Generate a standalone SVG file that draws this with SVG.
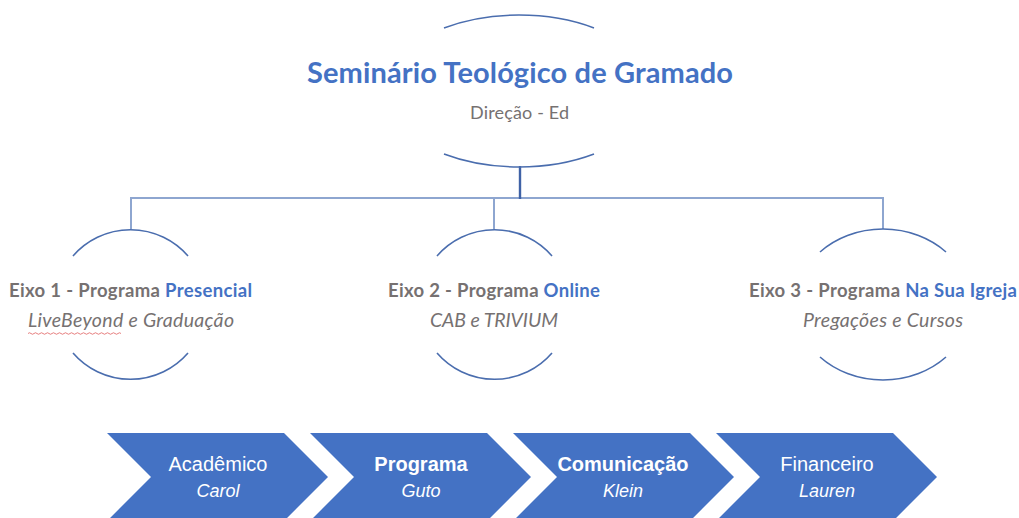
<svg xmlns="http://www.w3.org/2000/svg" width="1019" height="518" viewBox="0 0 1019 518">
<style>
.arc{fill:none;stroke:#4A6DAE;stroke-width:1.6}
.lnk{fill:none;stroke:#8EA6D0;stroke-width:2}
.lnk-main{fill:none;stroke:#3F62A6;stroke-width:2.4}
.title{font-family:Lato,"Open Sans",sans-serif;font-weight:bold;font-size:29px;fill:#4472C4;text-anchor:middle}
.sub{font-family:Lato,"Open Sans",sans-serif;font-size:18px;fill:#767171;text-anchor:middle}
.eixo{font-family:Lato,"Open Sans",sans-serif;font-weight:bold;font-size:18.5px;fill:#767171;text-anchor:middle}
.blue{fill:#4472C4}
.desc{font-family:Lato,"Open Sans",sans-serif;font-style:italic;font-size:19.5px;fill:#767171;text-anchor:middle}
.chev{fill:#4472C4}
.ct{font-family:"Liberation Sans",Arial,sans-serif;font-size:20px;fill:#FFFFFF;text-anchor:middle}
.cn{font-family:"Liberation Sans",Arial,sans-serif;font-style:italic;font-size:18px;fill:#FFFFFF;text-anchor:middle}
</style>
<rect width="1019" height="518" fill="#FFFFFF"/>
<g id="connectors">
<path class="lnk" d="M131 229 V198 H883 V229"/>
<path class="lnk" d="M494 198 V229"/>
<path class="lnk-main" d="M520 166 V199"/>
</g>
<g id="node-seminario">
<path class="arc" d="M444 28 A134 75.5 0 0 1 594 28"/>
<path class="arc" d="M444 154 A134 75.5 0 0 0 594 154"/>
<text class="title" x="520" y="83" textLength="426">Seminário Teológico de Gramado</text>
<text class="sub" x="519.5" y="119" textLength="99">Direção - Ed</text>
</g>
<g id="node-eixo1">
<path class="arc" d="M73 256 A76 76 0 0 1 188 256"/>
<path class="arc" d="M73 353 A76 76 0 0 0 188 353"/>
<text class="eixo" x="130.5" y="297" textLength="243">Eixo 1 - Programa <tspan class="blue">Presencial</tspan></text>
<text class="desc" x="131" y="327" textLength="206">LiveBeyond e Graduação</text>
<path d="M28 333.5 q1.5 -1.5 3 0 t3 0 t3 0 t3 0 t3 0 t3 0 t3 0 t3 0 t3 0 t3 0 t3 0 t3 0 t3 0 t3 0 t3 0 t3 0 t3 0 t3 0 t3 0 t3 0 t3 0 t3 0 t3 0 t3 0 t3 0 t3 0 t3 0 t3 0 t3 0 t3 0 t3 0" fill="none" stroke="#E06060" stroke-width="0.8"/>
</g>
<g id="node-eixo2">
<path class="arc" d="M437 256 A76 76 0 0 1 552 256"/>
<path class="arc" d="M437 353 A76 76 0 0 0 552 353"/>
<text class="eixo" x="494" y="297" textLength="212">Eixo 2 - Programa <tspan class="blue">Online</tspan></text>
<text class="desc" x="494" y="327" textLength="128">CAB e TRIVIUM</text>
</g>
<g id="node-eixo3">
<path class="arc" d="M820 252 A88 76 0 0 1 946 252"/>
<path class="arc" d="M820 357 A88 76 0 0 0 946 357"/>
<text class="eixo" x="883" y="297" textLength="268">Eixo 3 - Programa <tspan class="blue">Na Sua Igreja</tspan></text>
<text class="desc" x="883" y="327" textLength="160">Pregações e Cursos</text>
</g>
<g id="node-academico">
<polygon class="chev" points="107,433 284,433 328,477 284,521 107,521 151,477"/>
<text class="ct" x="218" y="471">Acadêmico</text>
<text class="cn" x="218" y="497">Carol</text>
</g>
<g id="node-programa">
<polygon class="chev" points="310,433 487,433 531,477 487,521 310,521 354,477"/>
<text class="ct" x="421" y="471" font-weight="bold">Programa</text>
<text class="cn" x="421" y="497">Guto</text>
</g>
<g id="node-comunicacao">
<polygon class="chev" points="513,433 690,433 734,477 690,521 513,521 557,477"/>
<text class="ct" x="623" y="471" font-weight="bold" font-size="18">Comunicação</text>
<text class="cn" x="623" y="497">Klein</text>
</g>
<g id="node-financeiro">
<polygon class="chev" points="716,433 893,433 937,477 893,521 716,521 760,477"/>
<text class="ct" x="827" y="471">Financeiro</text>
<text class="cn" x="827" y="497">Lauren</text>
</g>
</svg>
